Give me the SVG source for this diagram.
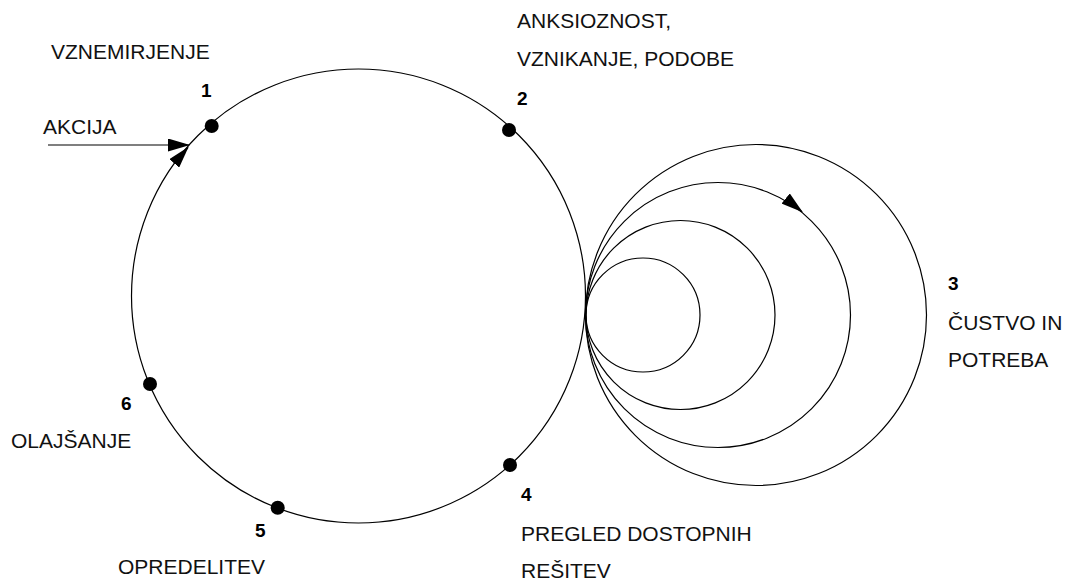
<svg xmlns="http://www.w3.org/2000/svg" width="1067" height="581" viewBox="0 0 1067 581">
  <style>
    .ring { fill: none; stroke: #000; stroke-width: 1.2; }
    .dot { fill: #000; }
    .label { font-family: "Liberation Sans", Arial, sans-serif; font-size: 21px; fill: #111; }
    .num { font-family: "Liberation Sans", Arial, sans-serif; font-size: 19px; font-weight: bold; fill: #000; }
    .link { fill: none; stroke: #000; stroke-width: 1.2; }
  </style>
  <defs>
    <marker id="head" viewBox="0 0 22 13" markerWidth="22" markerHeight="13" refX="21" refY="6.5" orient="auto" markerUnits="userSpaceOnUse">
      <path d="M0,0 L22,6.5 L0,13 z" fill="#000"/>
    </marker>
  </defs>

  <rect width="1067" height="581" fill="#fff"/>

  <!-- main cycle -->
  <g id="cycle">
    <circle class="ring" cx="358.5" cy="296" r="227"/>
  </g>

  <!-- nested emotion rings, all touching the cycle at one point -->
  <g id="emotion-rings">
    <circle class="ring" cx="643" cy="315" r="57"/>
    <circle class="ring" cx="680.5" cy="315" r="94.5"/>
    <circle class="ring" cx="718" cy="315" r="132.5"/>
    <circle class="ring" cx="756" cy="315" r="170.5"/>
  </g>

  <!-- connectors and direction arrows -->
  <g id="connectors">
    <path class="link" d="M48,145 L189,145" stroke="#333" marker-end="url(#head)"/>
    <path class="link" d="M174.9,162.6 L188,147.5" marker-end="url(#head)"/>
    <path class="link" d="M786.5,199.1 L802,211.7" marker-end="url(#head)"/>
  </g>

  <g id="step-1">
    <circle class="dot" cx="211.7" cy="126" r="7"/>
    <text class="num" x="201" y="97">1</text>
    <text class="label" x="51" y="59">VZNEMIRJENJE</text>
  </g>

  <g id="action">
    <text class="label" x="43" y="134">AKCIJA</text>
  </g>

  <g id="step-2">
    <circle class="dot" cx="509" cy="130" r="7"/>
    <text class="num" x="517" y="105">2</text>
    <text class="label" x="517" y="28">ANKSIOZNOST,</text>
    <text class="label" x="517" y="65.5">VZNIKANJE, PODOBE</text>
  </g>

  <g id="step-3">
    <text class="num" x="948" y="290">3</text>
    <text class="label" x="948" y="329.5">ČUSTVO IN</text>
    <text class="label" x="948" y="366.5">POTREBA</text>
  </g>

  <g id="step-4">
    <circle class="dot" cx="510" cy="465" r="7"/>
    <text class="num" x="521" y="501">4</text>
    <text class="label" x="521" y="540.5">PREGLED DOSTOPNIH</text>
    <text class="label" x="521" y="577.5">REŠITEV</text>
  </g>

  <g id="step-5">
    <circle class="dot" cx="277.7" cy="507.7" r="7"/>
    <text class="num" x="255" y="536.5">5</text>
    <text class="label" x="118" y="573.5">OPREDELITEV</text>
  </g>

  <g id="step-6">
    <circle class="dot" cx="150" cy="384" r="7"/>
    <text class="num" x="121" y="410">6</text>
    <text class="label" x="11" y="447.5">OLAJŠANJE</text>
  </g>
</svg>
